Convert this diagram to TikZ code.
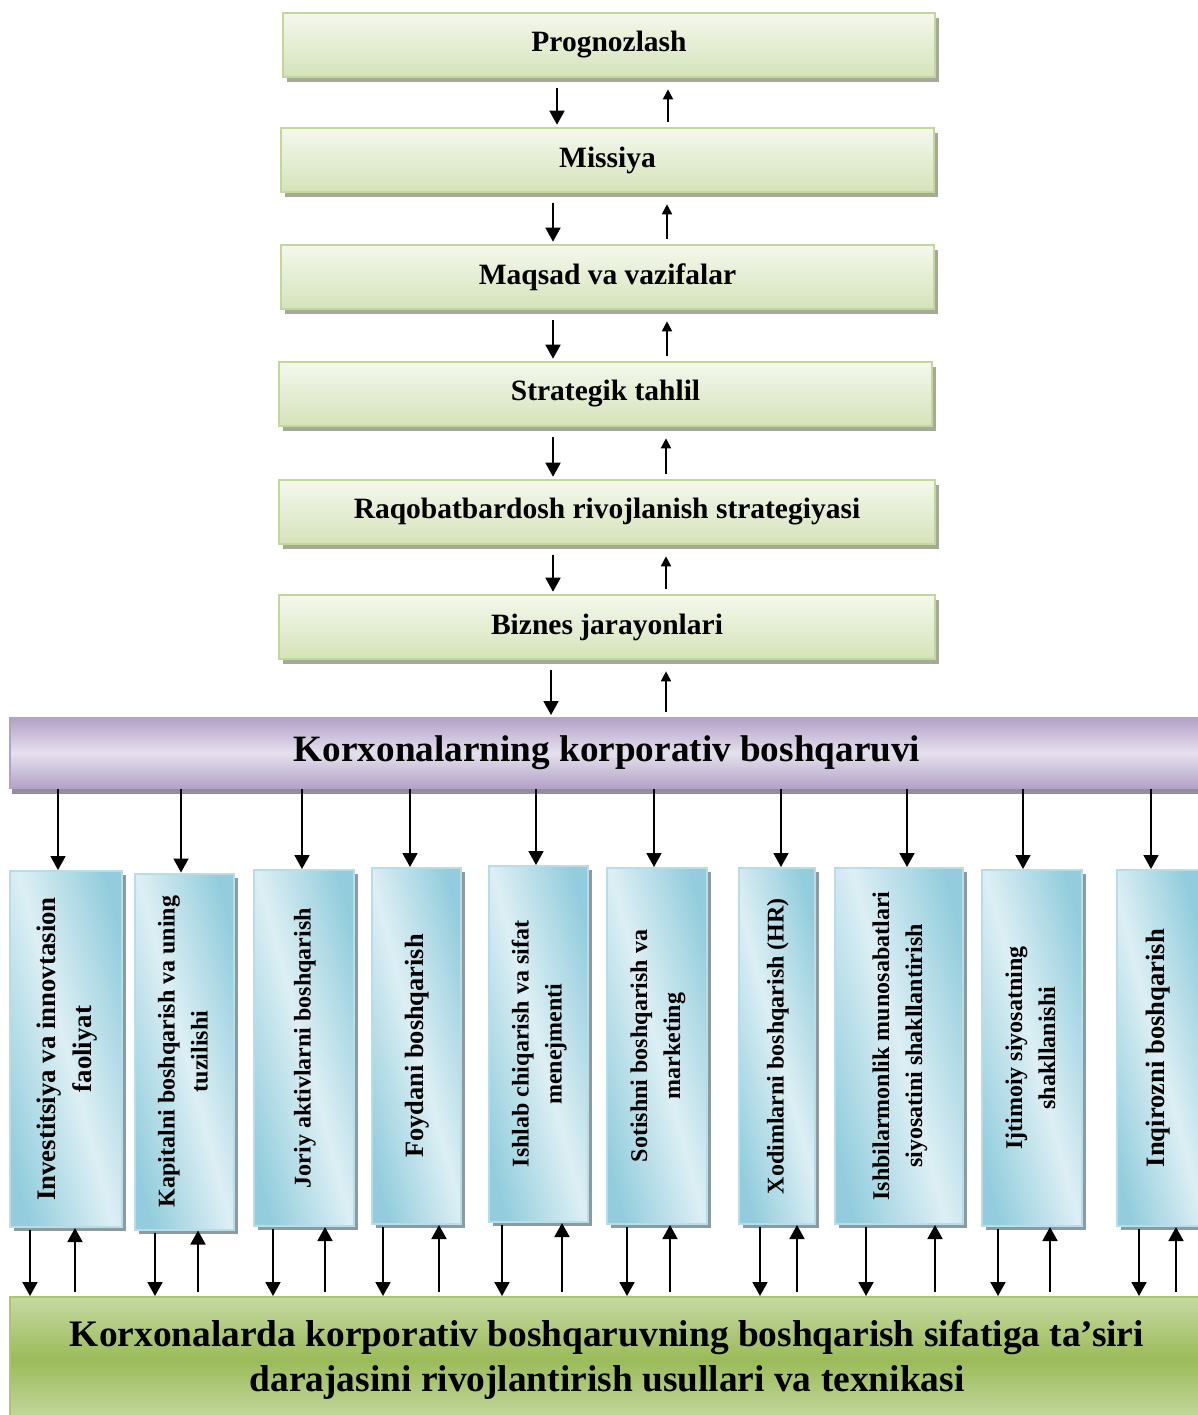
\documentclass[tikz,border=0pt]{standalone}
\usepackage{fontspec}
\usepackage{graphicx}
\setmainfont{Liberation Serif}
\usetikzlibrary{arrows.meta,shadows}
\definecolor{tgborder}{HTML}{C3D69B}
\definecolor{tgtop}{HTML}{F4F8EC}
\definecolor{tgbot}{HTML}{D5E3BA}
\definecolor{tgshadow}{HTML}{A3AA98}
\definecolor{vdark}{HTML}{93CDDD}
\definecolor{vlight}{HTML}{DDEFF4}
\definecolor{vborder}{HTML}{B7DDE8}
\definecolor{vshadow}{HTML}{8C9BA0}
\definecolor{pdark}{HTML}{B3A2C7}
\definecolor{plight}{HTML}{E6E0EE}
\definecolor{pshadow}{HTML}{948E9C}
\definecolor{gtop}{HTML}{C6D9A2}
\definecolor{gmid}{HTML}{9BBB59}
\definecolor{gborder}{HTML}{A9C575}
\tikzset{
  topbox/.style={draw=tgborder, line width=1.3pt, top color=tgtop, bottom color=tgbot,
    minimum height=32pt, inner sep=0pt, font=\fontsize{14.75}{17}\selectfont\bfseries,
    drop shadow={shadow xshift=2pt,shadow yshift=-2.5pt,fill=tgshadow,opacity=1}},
  vbox/.style={draw=vborder, line width=1pt, left color=vdark, right color=vdark, middle color=vlight,
    shading angle=105, minimum height=178pt, inner sep=0pt, font=\fontsize{12}{16.5}\selectfont\bfseries,
    drop shadow={shadow xshift=2pt,shadow yshift=-2pt,fill=vshadow,opacity=1}},
  corpbar/.style={draw=pdark, line width=1pt, top color=pdark, bottom color=pdark, middle color=plight,
    minimum width=597pt, minimum height=35pt, inner sep=0pt, font=\fontsize{18.6}{22}\selectfont\bfseries,
    drop shadow={shadow xshift=1pt,shadow yshift=-3pt,fill=pshadow,opacity=1}},
  botbar/.style={draw=gborder, line width=1pt, top color=gtop, bottom color=gtop, middle color=gmid,
    minimum width=597pt, minimum height=62.5pt, inner sep=0pt, align=center,
    font=\fontsize{18.7}{22.5}\selectfont\bfseries},
  arr/.style={line width=0.9pt, -{Triangle[length=7pt,width=7.5pt]}},
  arrs/.style={line width=0.9pt, -{Triangle[length=5pt,width=5pt]}}
}
\newcommand{\vt}[1]{\rotatebox{90}{\begin{tabular}{@{}c@{}}#1\end{tabular}}}
\begin{document}
\begin{tikzpicture}[x=0.5pt,y=-0.5pt]
\useasboundingbox (0,0) rectangle (1198,1415);
% top chain
\node[topbox, minimum width=326pt] (t1) at (609,45) {Prognozlash};
\node[topbox, minimum width=326.5pt] (t2) at (607.5,160) {Missiya};
\node[topbox, minimum width=326.5pt] (t3) at (607.5,277) {Maqsad va vazifalar};
\node[topbox, minimum width=326.5pt] (t4) at (605.5,394) {Strategik tahlil};
\node[topbox, minimum width=328pt] (t5) at (607,512) {Raqobatbardosh rivojlanish strategiyasi};
\node[topbox, minimum width=328pt] (t6) at (607,627) {Biznes jarayonlari};
% corporate bar
\node[corpbar] (corp) at (607,753) {Korxonalarning korporativ boshqaruvi};
% bottom bar
\node[botbar] (bot) at (607,1359.5) {Korxonalarda korporativ boshqaruvning boshqarish sifatiga ta’siri\\darajasini rivojlantirish usullari va texnikasi};
% vertical boxes
\node[vbox, minimum width=56pt] (v1) at (66,1049) {\fontsize{13.4}{18}\selectfont\vt{Investitsiya va innovtasion\\faoliyat}};
\node[vbox, minimum width=49.5pt] (v2) at (184.5,1051.5) {\vt{Kapitalni boshqarish va uning\\tuzilishi}};
\node[vbox, minimum width=50pt] (v3) at (304,1048) {\vt{Joriy aktivlarni boshqarish}};
\node[vbox, minimum width=44.5pt] (v4) at (416.5,1046) {\fontsize{13.2}{17}\selectfont\vt{Foydani boshqarish}};
\node[vbox, minimum width=49.5pt] (v5) at (538.5,1044) {\vt{Ishlab chiqarish va sifat\\menejmenti}};
\node[vbox, minimum width=50pt] (v6) at (657,1046) {\vt{Sotishni boshqarish va\\marketing}};
\node[vbox, minimum width=38pt] (v7) at (777,1046) {\vt{Xodimlarni boshqarish (HR)}};
\node[vbox, minimum width=64pt] (v8) at (899,1046) {\vt{Ishbilarmonlik munosabatlari\\siyosatini shakllantirish}};
\node[vbox, minimum width=50pt] (v9) at (1032,1048) {\vt{Ijtimoiy siyosatning\\shakllanishi}};
\node[vbox, minimum width=41pt] (v10) at (1157.5,1048) {\fontsize{13.3}{17}\selectfont\vt{Inqirozni boshqarish}};
% arrows in the top chain
\foreach \a/\b/\d/\u in {t1/t2/557/668, t2/t3/553/667, t3/t4/553/667, t4/t5/553/666, t5/t6/553/666, t6/corp/551/666}{
  \draw[arr, shorten <=5pt, shorten >=1pt] (\a.south -| \d,0) -- (\b.north -| \d,0);
  \draw[arrs, shorten <=2.5pt, shorten >=5.5pt] (\b.north -| \u,0) -- (\a.south -| \u,0);
}
% arrows from the corporate bar to the boxes
\foreach \v/\x in {v1/58, v2/181, v3/302, v4/410, v5/536, v6/654, v7/781, v8/907, v9/1023, v10/1151}{
  \draw[arr] (corp.south -| \x,0) -- (\v.north -| \x,0);
}
% arrows between the boxes and the bottom bar
\foreach \v/\d/\u in {v1/30/75, v2/155/198, v3/273/325, v4/383/439, v5/502/562, v6/627/670, v7/760/797, v8/866/935, v9/998/1050, v10/1139/1176}{
  \draw[arr, shorten <=1pt] (\v.south -| \d,0) -- (bot.north -| \d,0);
  \draw[arr, shorten <=2pt] (bot.north -| \u,0) -- (\v.south -| \u,0);
}
\end{tikzpicture}
\end{document}
